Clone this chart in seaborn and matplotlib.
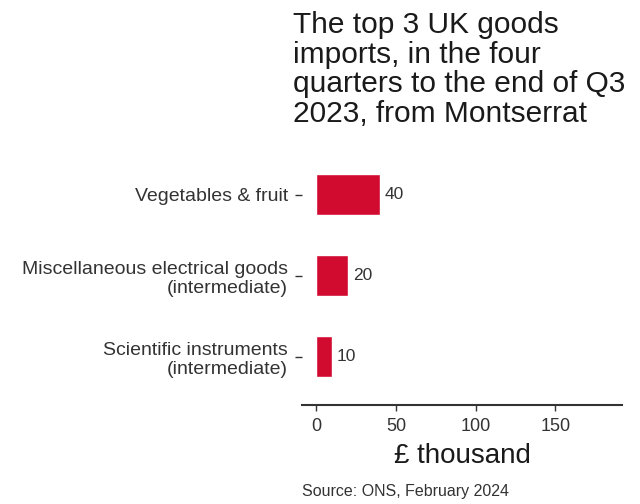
import matplotlib
matplotlib.use("Agg")
import matplotlib.pyplot as plt
import seaborn as sns
import pandas as pd

# data
categories = ["Vegetables & fruit",
              "Miscellaneous electrical goods\n(intermediate)",
              "Scientific instruments\n(intermediate)"]
values = [40, 20, 10]
value_labels = ["40", "20", "10"]
x_ticks = [0, 50, 100, 150]

df = pd.DataFrame({"category": categories, "value": values})

sns.set_theme(style="white")
plt.rcParams['font.family'] = ['Liberation Sans', 'DejaVu Sans']

fig = plt.figure(figsize=(6.4, 5.04), dpi=100)
ax = fig.add_axes([0.472, 0.196, 0.50, 0.49])

sns.barplot(data=df, x="value", y="category", color="#d10a2f",
            width=0.5, saturation=1, ax=ax)

# value labels right of each bar
for i, (v, lab) in enumerate(zip(values, value_labels)):
    ax.text(v + 3, i, lab, va="center", ha="left", fontsize=12.5, color="#333333")

ax.set_xlim(-9, 192)
ax.set_ylim(2.6, -0.45)
ax.set_xticks(x_ticks)
ax.set_xticklabels([str(t) for t in x_ticks], fontsize=13, color="#333333")
ax.set_yticks(range(len(categories)))
ax.set_yticklabels(categories, fontsize=14, color="#333333", linespacing=1.15)
ax.tick_params(axis="y", length=5, width=1, color="#333333", left=True, pad=5)
ax.tick_params(axis="x", length=4, width=1, color="#333333", bottom=True, pad=5)
ax.set_ylabel("")
ax.set_xlabel("£ thousand", fontsize=20, color="#1a1a1a", labelpad=6)

for s in ["top", "right", "left"]:
    ax.spines[s].set_visible(False)
ax.spines["bottom"].set_color("#333333")
ax.spines["bottom"].set_linewidth(1.5)

fig.text(0.458, 0.978, "The top 3 UK goods\nimports, in the four\nquarters to the end of Q3\n2023, from Montserrat",
         ha="left", va="top", fontsize=21.5, color="#1a1a1a", linespacing=1.07)
fig.text(0.472, 0.01, "Source: ONS, February 2024", ha="left", va="bottom",
         fontsize=11.5, color="#333333")

fig.savefig("out.png", dpi=100)
